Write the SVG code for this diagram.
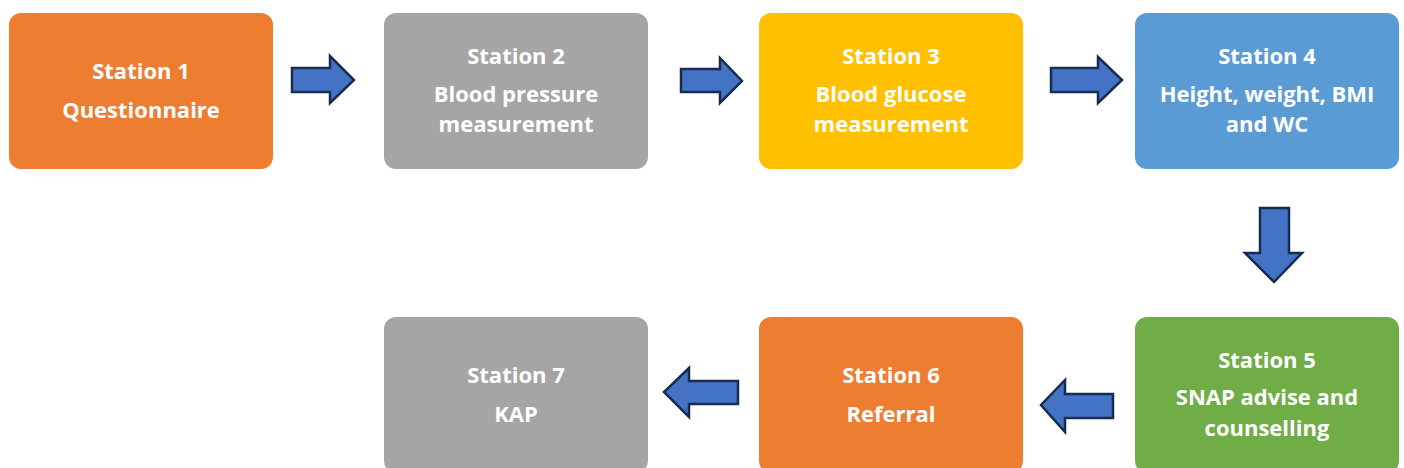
<svg xmlns="http://www.w3.org/2000/svg" width="1404" height="468" viewBox="0 0 1404 468">
<style>
.box{stroke:none}
.t{font-family:"Open Sans","Liberation Sans",sans-serif;font-weight:bold;font-size:22px;fill:#ffffff;text-anchor:middle}
.arr{fill:#4472C4;stroke:#172C51;stroke-width:2.5;stroke-linejoin:miter}
</style>
<rect width="1404" height="468" fill="#ffffff"/>
<g id="station1"><rect class="box" x="9" y="13" width="264" height="156" rx="12" fill="#ED7D31"/>
<text class="t" x="141" y="79">Station 1</text><text class="t" x="141" y="118">Questionnaire</text></g>
<g id="station2"><rect class="box" x="384" y="13" width="264" height="156" rx="12" fill="#A5A5A5"/>
<text class="t" x="516" y="64">Station 2</text><text class="t" x="516" y="102">Blood pressure</text><text class="t" x="516" y="132">measurement</text></g>
<g id="station3"><rect class="box" x="759" y="13" width="264" height="156" rx="12" fill="#FFC000"/>
<text class="t" x="891" y="64">Station 3</text><text class="t" x="891" y="102">Blood glucose</text><text class="t" x="891" y="132">measurement</text></g>
<g id="station4"><rect class="box" x="1135" y="13" width="264" height="156" rx="12" fill="#5B9BD5"/>
<text class="t" x="1267" y="64">Station 4</text><text class="t" x="1267" y="102">Height, weight, BMI</text><text class="t" x="1267" y="132">and WC</text></g>
<g id="station5"><rect class="box" x="1135" y="317" width="264" height="156" rx="12" fill="#70AD47"/>
<text class="t" x="1267" y="368">Station 5</text><text class="t" x="1267" y="405">SNAP advise and</text><text class="t" x="1267" y="436">counselling</text></g>
<g id="station6"><rect class="box" x="759" y="317" width="264" height="156" rx="12" fill="#ED7D31"/>
<text class="t" x="891" y="383">Station 6</text><text class="t" x="891" y="422">Referral</text></g>
<g id="station7"><rect class="box" x="384" y="317" width="264" height="156" rx="12" fill="#A5A5A5"/>
<text class="t" x="516" y="383">Station 7</text><text class="t" x="516" y="422">KAP</text></g>
<g id="connectors">
<polygon class="arr" points="292,68 330,68 330,56 354,80 330,103 330,92 292,92"/>
<polygon class="arr" points="681,69 720,69 720,58 742,81 720,103 720,92 681,92"/>
<polygon class="arr" points="1051,68 1098,68 1098,57 1122,80 1098,103 1098,92 1051,92"/>
<polygon class="arr" points="1260,208 1289,208 1289,253 1302,253 1274,282 1245,253 1260,253"/>
<polygon class="arr" points="1113,394 1065,394 1065,380 1041,405 1065,432 1065,418 1113,418"/>
<polygon class="arr" points="738,381 689,381 689,368 664,392 689,417 689,404 738,404"/>
</g>
</svg>
